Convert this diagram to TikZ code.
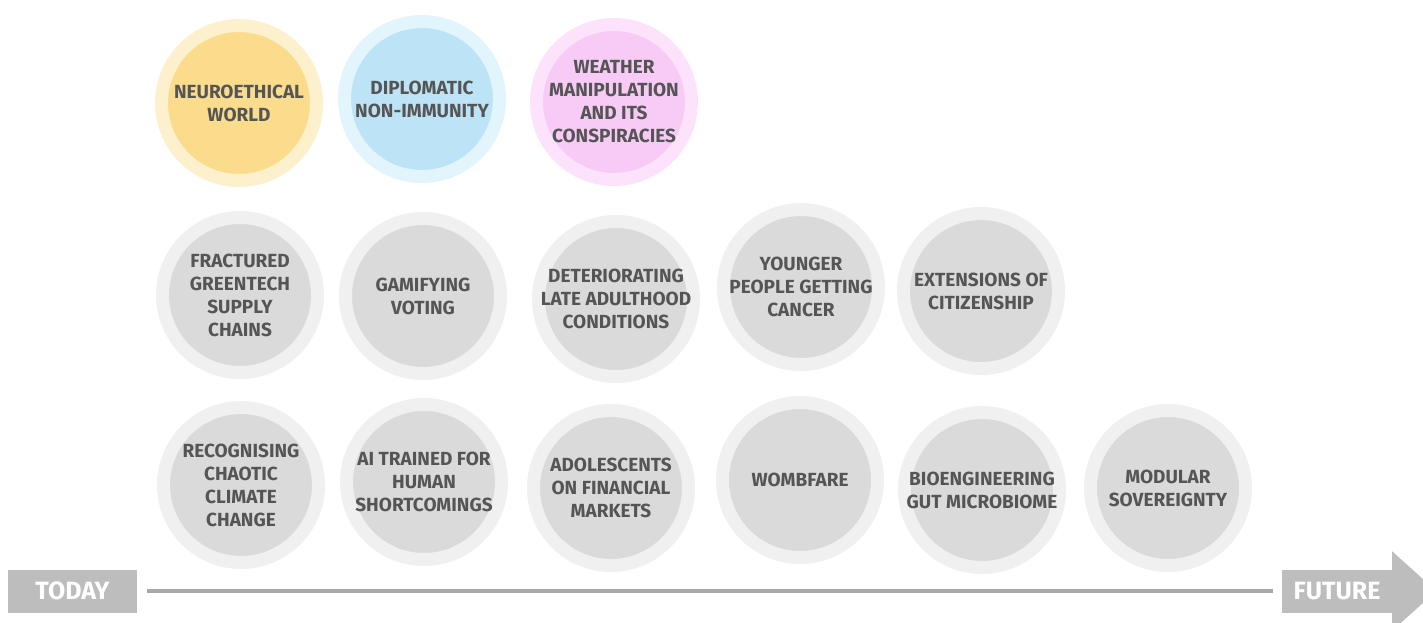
\documentclass[tikz,border=0pt]{standalone}
\usepackage{fontspec}
\setmainfont{Fira Sans}
\definecolor{ink}{HTML}{555555}
\definecolor{sand}{HTML}{FADC8C}
\definecolor{sandring}{HTML}{FDF0CC}
\definecolor{sky}{HTML}{BDE4F6}
\definecolor{skyring}{HTML}{E2F4FC}
\definecolor{orchid}{HTML}{F8CBF6}
\definecolor{orchidring}{HTML}{FCE3FB}
\definecolor{ash}{HTML}{DADADA}
\definecolor{ashring}{HTML}{F0F0F0}
\definecolor{boxgray}{HTML}{BDBDBD}
\definecolor{linegray}{HTML}{A8A8A8}

\begin{document}
\begin{tikzpicture}[x=1pt, y=-1pt]
    \tikzstyle{topic} = [circle, minimum size=155pt, inner sep=-12pt, line width=13pt, fill={#1}, draw={#1ring}, align=center, text=ink, font=\bfseries\fontsize{19}{23}\selectfont]
    \tikzstyle{timebox} = [fill=boxgray, text=white, minimum height=43pt, inner sep=0pt, font=\bfseries\fontsize{25}{30}\selectfont]
    \useasboundingbox (0, 0) rectangle (1423, 623);
    \node[topic=sand] (neuroethical) at (239, 103) {NEUROETHICAL\\WORLD};
    \node[topic=sky] (diplomatic) at (422, 99) {DIPLOMATIC\\NON-IMMUNITY};
    \node[topic=orchid] (weather) at (614, 102) {WEATHER\\MANIPULATION\\AND ITS\\CONSPIRACIES};
    \node[topic=ash] (greentech) at (240, 295) {FRACTURED\\GREENTECH\\SUPPLY\\CHAINS};
    \node[topic=ash] (voting) at (423, 296) {GAMIFYING\\VOTING};
    \node[topic=ash] (adulthood) at (616, 299) {DETERIORATING\\LATE ADULTHOOD\\CONDITIONS};
    \node[topic=ash] (cancer) at (801, 287) {YOUNGER\\PEOPLE GETTING\\CANCER};
    \node[topic=ash] (citizenship) at (981, 291) {EXTENSIONS OF\\CITIZENSHIP};
    \node[topic=ash] (climate) at (241, 485) {RECOGNISING\\CHAOTIC\\CLIMATE\\CHANGE};
    \node[topic=ash] (shortcomings) at (424, 482) {AI TRAINED FOR\\HUMAN\\SHORTCOMINGS};
    \node[topic=ash] (markets) at (611, 488) {ADOLESCENTS\\ON FINANCIAL\\MARKETS};
    \node[topic=ash] (wombfare) at (800, 480) {WOMBFARE};
    \node[topic=ash] (microbiome) at (982, 490) {BIOENGINEERING\\GUT MICROBIOME};
    \node[topic=ash] (sovereignty) at (1168, 488) {MODULAR\\SOVEREIGNTY};
    \node[timebox, minimum width=129pt] (today) at (72.5, 591) {TODAY};
    \node[timebox, minimum width=110pt] (future) at (1337, 591) {FUTURE};
    \fill[boxgray] ([yshift=18pt]future.north east) -- ([xshift=44pt]future.east) -- ([yshift=-18pt]future.south east) -- cycle;
    \draw[line width=4pt, color=linegray] ([xshift=10pt]today.east) -- ([xshift=-9pt]future.west);
\end{tikzpicture}
\end{document}
